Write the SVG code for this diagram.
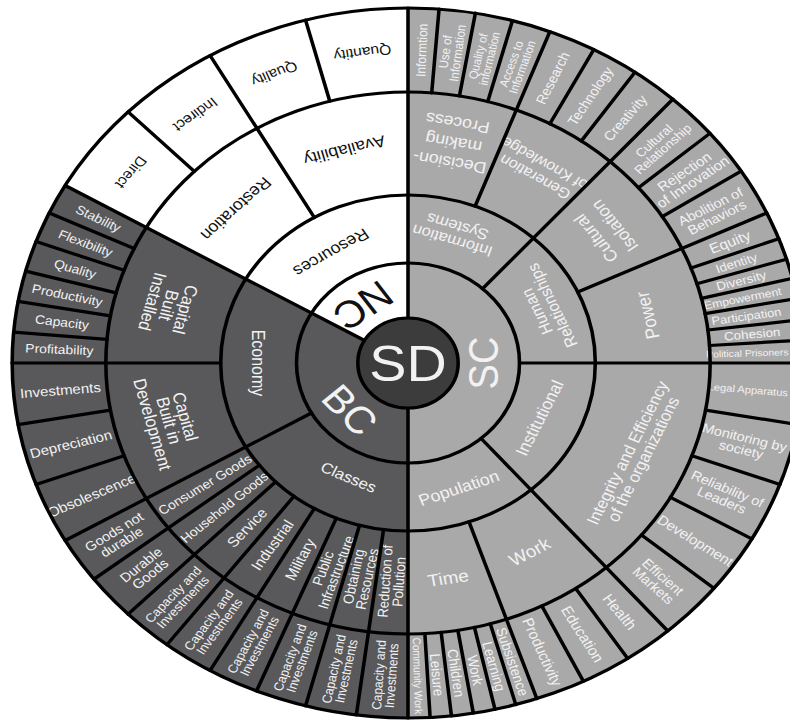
<svg xmlns="http://www.w3.org/2000/svg" width="790" height="721" viewBox="0 0 790 721">
<style>
text{font-family:"Liberation Sans",Arial,Helvetica,sans-serif;text-anchor:middle}
.w{fill:#f2f2f2}
.k{fill:#111}
.arc{fill:none}
.nc{stroke:#ffffff}
.bc{stroke:#59595b}
.sc{stroke:#aaa9aa}
.r1{stroke-width:55}
.r2{stroke-width:68}
.r3{stroke-width:103}
.r4{stroke-width:84}
#dividers line,#dividers circle{stroke:#000;stroke-width:3.2;fill:none;stroke-linecap:round}
</style>
<rect width="790" height="721" fill="#fff"/>
<g transform="translate(408,363) scale(1.115,1)">
<!-- ring 1 -->
<g id="nc"><circle class="arc nc r1" r="72.5" pathLength="360" stroke-dasharray="60 360" transform="rotate(210)"/><text class="k" font-size="38" transform="rotate(325) translate(0,-70) rotate(180)" dy="0.35em">NC</text></g>
<g id="bc"><circle class="arc bc r1" r="72.5" pathLength="360" stroke-dasharray="120 360" transform="rotate(90)"/><text class="w" font-size="38" transform="rotate(228) translate(0,-70) rotate(180)" dy="0.35em">BC</text></g>
<g id="sc"><circle class="arc sc r1" r="72.5" pathLength="360" stroke-dasharray="180 360" transform="rotate(-90)"/><text class="w" font-size="38" transform="rotate(90) translate(0,-67) rotate(180)" dy="0.35em">SC</text></g>
<!-- ring 2 -->
<g id="resources"><circle class="arc nc r2" r="134" pathLength="360" stroke-dasharray="60 360" transform="rotate(210)"/><text class="k" font-size="16" transform="rotate(328) translate(0,-130) rotate(180)" dy="0.35em">Resources</text></g>
<g id="economy"><circle class="arc bc r2" r="134" pathLength="360" stroke-dasharray="60 360" transform="rotate(150)"/><text class="w" font-size="16" transform="rotate(270) translate(0,-134) rotate(180)" dy="0.35em">Economy</text></g>
<g id="classes"><circle class="arc bc r2" r="134" pathLength="360" stroke-dasharray="60 360" transform="rotate(90)"/><text class="w" font-size="15" transform="rotate(205) translate(0,-126) rotate(180)" dy="0.35em">Classes</text></g>
<g id="information-systems"><circle class="arc sc r2" r="134" pathLength="360" stroke-dasharray="42 360" transform="rotate(-90)"/><text class="w" font-size="15" transform="rotate(18) translate(0,-136) rotate(180)"><tspan x="0" dy="-0.15em">Information</tspan><tspan x="0" dy="1em">Systems</tspan></text></g>
<g id="human-relationships"><circle class="arc sc r2" r="134" pathLength="360" stroke-dasharray="48 360" transform="rotate(-48)"/><text class="w" font-size="15" transform="rotate(66) translate(0,-134) rotate(180)"><tspan x="0" dy="-0.15em">Human</tspan><tspan x="0" dy="1em">Relationships</tspan></text></g>
<g id="institutional"><circle class="arc sc r2" r="134" pathLength="360" stroke-dasharray="49 360" transform="rotate(0)"/><text class="w" font-size="16" transform="rotate(115) translate(0,-130) rotate(180)" dy="0.35em">Institutional</text></g>
<g id="population"><circle class="arc sc r2" r="134" pathLength="360" stroke-dasharray="41 360" transform="rotate(49)"/><text class="w" font-size="16" transform="rotate(160) translate(0,-133) rotate(180)" dy="0.35em">Population</text></g>
<!-- ring 3 -->
<g id="restoration"><circle class="arc nc r3" r="219.5" pathLength="360" stroke-dasharray="30 360" transform="rotate(210)"/><text class="k" font-size="16" transform="rotate(315) translate(0,-218) rotate(180)" dy="0.35em">Restoration</text></g>
<g id="availability"><circle class="arc nc r3" r="219.5" pathLength="360" stroke-dasharray="30 360" transform="rotate(240)"/><text class="k" font-size="16" transform="rotate(345) translate(0,-220) rotate(180)" dy="0.35em">Availability</text></g>
<g id="capital-built-installed"><circle class="arc bc r3" r="219.5" pathLength="360" stroke-dasharray="30 360" transform="rotate(180)"/><text class="w" font-size="16" transform="rotate(285) translate(0,-222) rotate(180)"><tspan x="0" dy="-0.6em">Capital</tspan><tspan x="0" dy="0.95em">Built</tspan><tspan x="0" dy="0.95em">Installed</tspan></text></g>
<g id="capital-built-development"><circle class="arc bc r3" r="219.5" pathLength="360" stroke-dasharray="30 360" transform="rotate(150)"/><text class="w" font-size="16" transform="rotate(255) translate(0,-222) rotate(180)"><tspan x="0" dy="-0.6em">Capital</tspan><tspan x="0" dy="0.95em">Built in</tspan><tspan x="0" dy="0.95em">Development</tspan></text></g>
<g id="consumer-goods"><circle class="arc bc r3" r="219.5" pathLength="360" stroke-dasharray="7.5 360" transform="rotate(142.5)"/><text class="w" font-size="12.5" transform="rotate(236.25) translate(0,-219) rotate(90)" dy="0.35em">Consumer Goods</text></g>
<g id="household-goods"><circle class="arc bc r3" r="219.5" pathLength="360" stroke-dasharray="7.5 360" transform="rotate(135)"/><text class="w" font-size="12.5" transform="rotate(228.75) translate(0,-219) rotate(90)" dy="0.35em">Household Goods</text></g>
<g id="service"><circle class="arc bc r3" r="219.5" pathLength="360" stroke-dasharray="7.5 360" transform="rotate(127.5)"/><text class="w" font-size="14" transform="rotate(221.25) translate(0,-219) rotate(90)" dy="0.35em">Service</text></g>
<g id="industrial"><circle class="arc bc r3" r="219.5" pathLength="360" stroke-dasharray="7.5 360" transform="rotate(120)"/><text class="w" font-size="14" transform="rotate(213.75) translate(0,-219) rotate(90)" dy="0.35em">Industrial</text></g>
<g id="military"><circle class="arc bc r3" r="219.5" pathLength="360" stroke-dasharray="7.5 360" transform="rotate(112.5)"/><text class="w" font-size="14" transform="rotate(206.25) translate(0,-219) rotate(90)" dy="0.35em">Military</text></g>
<g id="public-infrastructure"><circle class="arc bc r3" r="219.5" pathLength="360" stroke-dasharray="7.5 360" transform="rotate(105)"/><text class="w" font-size="13" transform="rotate(198.75) translate(0,-219) rotate(90)"><tspan x="0" dy="-0.125em">Public</tspan><tspan x="0" dy="0.95em">Infrastructure</tspan></text></g>
<g id="obtaining-resources"><circle class="arc bc r3" r="219.5" pathLength="360" stroke-dasharray="7.5 360" transform="rotate(97.5)"/><text class="w" font-size="13" transform="rotate(191.25) translate(0,-219) rotate(90)"><tspan x="0" dy="-0.125em">Obtaining</tspan><tspan x="0" dy="0.95em">Resources</tspan></text></g>
<g id="reduction-of-pollution"><circle class="arc bc r3" r="219.5" pathLength="360" stroke-dasharray="7.5 360" transform="rotate(90)"/><text class="w" font-size="13" transform="rotate(183.75) translate(0,-219) rotate(90)"><tspan x="0" dy="-0.125em">Reduction of</tspan><tspan x="0" dy="0.95em">Pollution</tspan></text></g>
<g id="decision-making"><circle class="arc sc r3" r="219.5" pathLength="360" stroke-dasharray="21 360" transform="rotate(-90)"/><text class="w" font-size="16" transform="rotate(10.5) translate(0,-224) rotate(180)"><tspan x="0" dy="-0.9em">Decision-</tspan><tspan x="0" dy="1.25em">making</tspan><tspan x="0" dy="1.25em">Process</tspan></text></g>
<g id="generation-knowledge"><circle class="arc sc r3" r="219.5" pathLength="360" stroke-dasharray="21 360" transform="rotate(-69)"/><text class="w" font-size="14.5" transform="rotate(31.5) translate(0,-226) rotate(180)"><tspan x="0" dy="-0.2em">Generation</tspan><tspan x="0" dy="1.1em">of Knowledge</tspan></text></g>
<g id="cultural-isolation"><circle class="arc sc r3" r="219.5" pathLength="360" stroke-dasharray="23 360" transform="rotate(-48)"/><text class="w" font-size="16" transform="rotate(53.5) translate(0,-220) rotate(180)"><tspan x="0" dy="-0.3em">Cultural</tspan><tspan x="0" dy="1.3em">Isolation</tspan></text></g>
<g id="power"><circle class="arc sc r3" r="219.5" pathLength="360" stroke-dasharray="25 360" transform="rotate(-25)"/><text class="w" font-size="17" transform="rotate(77.5) translate(0,-220) rotate(180)" dy="0.35em">Power</text></g>
<g id="integrity"><circle class="arc sc r3" r="219.5" pathLength="360" stroke-dasharray="49 360" transform="rotate(0)"/><text class="w" font-size="15.5" transform="rotate(114.5) translate(0,-224) rotate(180)"><tspan x="0" dy="-0.15em">Integrity and Efficiency</tspan><tspan x="0" dy="1em">of the organizations</tspan></text></g>
<g id="work"><circle class="arc sc r3" r="219.5" pathLength="360" stroke-dasharray="22 360" transform="rotate(49)"/><text class="w" font-size="17" transform="rotate(150) translate(0,-218) rotate(180)" dy="0.35em">Work</text></g>
<g id="time"><circle class="arc sc r3" r="219.5" pathLength="360" stroke-dasharray="19 360" transform="rotate(71)"/><text class="w" font-size="17" transform="rotate(170.5) translate(0,-218) rotate(180)" dy="0.35em">Time</text></g>
<!-- ring 4 NC -->
<g id="direct"><circle class="arc nc r4" r="313" pathLength="360" stroke-dasharray="15 360" transform="rotate(210)"/><text class="k" font-size="14" transform="rotate(307.5) translate(0,-313) rotate(180)" dy="0.35em">Direct</text></g>
<g id="indirect"><circle class="arc nc r4" r="313" pathLength="360" stroke-dasharray="15 360" transform="rotate(225)"/><text class="k" font-size="14" transform="rotate(322.5) translate(0,-313) rotate(180)" dy="0.35em">Indirect</text></g>
<g id="quality-nc"><circle class="arc nc r4" r="313" pathLength="360" stroke-dasharray="15 360" transform="rotate(240)"/><text class="k" font-size="14" transform="rotate(337.5) translate(0,-313) rotate(180)" dy="0.35em">Quality</text></g>
<g id="quantity"><circle class="arc nc r4" r="313" pathLength="360" stroke-dasharray="15 360" transform="rotate(255)"/><text class="k" font-size="14" transform="rotate(352.5) translate(0,-313) rotate(180)" dy="0.35em">Quantity</text></g>
<!-- ring 4 BC -->
<g id="stability"><circle class="arc bc r4" r="313" pathLength="360" stroke-dasharray="5 360" transform="rotate(205)"/><text class="w" font-size="12.5" transform="rotate(297.5) translate(0,-313) rotate(90)" dy="0.35em">Stability</text></g>
<g id="flexibility"><circle class="arc bc r4" r="313" pathLength="360" stroke-dasharray="5 360" transform="rotate(200)"/><text class="w" font-size="12.5" transform="rotate(292.5) translate(0,-313) rotate(90)" dy="0.35em">Flexibility</text></g>
<g id="quality-bc"><circle class="arc bc r4" r="313" pathLength="360" stroke-dasharray="5 360" transform="rotate(195)"/><text class="w" font-size="12.5" transform="rotate(287.5) translate(0,-313) rotate(90)" dy="0.35em">Quality</text></g>
<g id="productivity-bc"><circle class="arc bc r4" r="313" pathLength="360" stroke-dasharray="5 360" transform="rotate(190)"/><text class="w" font-size="12.5" transform="rotate(282.5) translate(0,-313) rotate(90)" dy="0.35em">Productivity</text></g>
<g id="capacity"><circle class="arc bc r4" r="313" pathLength="360" stroke-dasharray="5 360" transform="rotate(185)"/><text class="w" font-size="12.5" transform="rotate(277.5) translate(0,-313) rotate(90)" dy="0.35em">Capacity</text></g>
<g id="profitability"><circle class="arc bc r4" r="313" pathLength="360" stroke-dasharray="5 360" transform="rotate(180)"/><text class="w" font-size="12.5" transform="rotate(272.5) translate(0,-313) rotate(90)" dy="0.35em">Profitability</text></g>
<g id="investments"><circle class="arc bc r4" r="313" pathLength="360" stroke-dasharray="10 360" transform="rotate(170)"/><text class="w" font-size="13.5" transform="rotate(265) translate(0,-313) rotate(90)" dy="0.35em">Investments</text></g>
<g id="depreciation"><circle class="arc bc r4" r="313" pathLength="360" stroke-dasharray="10 360" transform="rotate(160)"/><text class="w" font-size="13.5" transform="rotate(255) translate(0,-313) rotate(90)" dy="0.35em">Depreciation</text></g>
<g id="obsolescence"><circle class="arc bc r4" r="313" pathLength="360" stroke-dasharray="10 360" transform="rotate(150)"/><text class="w" font-size="13.5" transform="rotate(245) translate(0,-313) rotate(90)" dy="0.35em">Obsolescence</text></g>
<g id="goods-not-durable"><circle class="arc bc r4" r="313" pathLength="360" stroke-dasharray="7.5 360" transform="rotate(142.5)"/><text class="w" font-size="13" transform="rotate(236.25) translate(0,-313) rotate(90)"><tspan x="0" dy="-0.125em">Goods not</tspan><tspan x="0" dy="0.95em">durable</tspan></text></g>
<g id="durable-goods"><circle class="arc bc r4" r="313" pathLength="360" stroke-dasharray="7.5 360" transform="rotate(135)"/><text class="w" font-size="13" transform="rotate(228.75) translate(0,-313) rotate(90)"><tspan x="0" dy="-0.125em">Durable</tspan><tspan x="0" dy="0.95em">Goods</tspan></text></g>
<g id="cap-inv-1"><circle class="arc bc r4" r="313" pathLength="360" stroke-dasharray="7.5 360" transform="rotate(127.5)"/><text class="w" font-size="12" transform="rotate(221.25) translate(0,-313) rotate(90)"><tspan x="0" dy="-0.125em">Capacity and</tspan><tspan x="0" dy="0.95em">Investments</tspan></text></g>
<g id="cap-inv-2"><circle class="arc bc r4" r="313" pathLength="360" stroke-dasharray="7.5 360" transform="rotate(120)"/><text class="w" font-size="12" transform="rotate(213.75) translate(0,-313) rotate(90)"><tspan x="0" dy="-0.125em">Capacity and</tspan><tspan x="0" dy="0.95em">Investments</tspan></text></g>
<g id="cap-inv-3"><circle class="arc bc r4" r="313" pathLength="360" stroke-dasharray="7.5 360" transform="rotate(112.5)"/><text class="w" font-size="12" transform="rotate(206.25) translate(0,-313) rotate(90)"><tspan x="0" dy="-0.125em">Capacity and</tspan><tspan x="0" dy="0.95em">Investments</tspan></text></g>
<g id="cap-inv-4"><circle class="arc bc r4" r="313" pathLength="360" stroke-dasharray="7.5 360" transform="rotate(105)"/><text class="w" font-size="12" transform="rotate(198.75) translate(0,-313) rotate(90)"><tspan x="0" dy="-0.125em">Capacity and</tspan><tspan x="0" dy="0.95em">Investments</tspan></text></g>
<g id="cap-inv-5"><circle class="arc bc r4" r="313" pathLength="360" stroke-dasharray="7.5 360" transform="rotate(97.5)"/><text class="w" font-size="12" transform="rotate(191.25) translate(0,-313) rotate(90)"><tspan x="0" dy="-0.125em">Capacity and</tspan><tspan x="0" dy="0.95em">Investments</tspan></text></g>
<g id="cap-inv-6"><circle class="arc bc r4" r="313" pathLength="360" stroke-dasharray="7.5 360" transform="rotate(90)"/><text class="w" font-size="12" transform="rotate(183.75) translate(0,-313) rotate(90)"><tspan x="0" dy="-0.125em">Capacity and</tspan><tspan x="0" dy="0.95em">Investments</tspan></text></g>
<!-- ring 4 SC -->
<g id="informtion"><circle class="arc sc r4" r="313" pathLength="360" stroke-dasharray="4.5 360" transform="rotate(-90)"/><text class="w" font-size="12" transform="rotate(2.25) translate(0,-313) rotate(-90)" dy="0.35em">Informtion</text></g>
<g id="use-of-information"><circle class="arc sc r4" r="313" pathLength="360" stroke-dasharray="5.3 360" transform="rotate(-85.5)"/><text class="w" font-size="11.5" transform="rotate(7.15) translate(0,-313) rotate(-90)"><tspan x="0" dy="-0.125em">Use of</tspan><tspan x="0" dy="0.95em">Information</tspan></text></g>
<g id="quality-of-information"><circle class="arc sc r4" r="313" pathLength="360" stroke-dasharray="5.5 360" transform="rotate(-80.2)"/><text class="w" font-size="11" transform="rotate(12.55) translate(0,-313) rotate(-90)"><tspan x="0" dy="-0.125em">Quality of</tspan><tspan x="0" dy="0.95em">information</tspan></text></g>
<g id="access-to-information"><circle class="arc sc r4" r="313" pathLength="360" stroke-dasharray="5.7 360" transform="rotate(-74.7)"/><text class="w" font-size="11" transform="rotate(18.15) translate(0,-313) rotate(-90)"><tspan x="0" dy="-0.125em">Access to</tspan><tspan x="0" dy="0.95em">Information</tspan></text></g>
<g id="research"><circle class="arc sc r4" r="313" pathLength="360" stroke-dasharray="7 360" transform="rotate(-69)"/><text class="w" font-size="13" transform="rotate(24.5) translate(0,-313) rotate(-90)" dy="0.35em">Research</text></g>
<g id="technology"><circle class="arc sc r4" r="313" pathLength="360" stroke-dasharray="7 360" transform="rotate(-62)"/><text class="w" font-size="13" transform="rotate(31.5) translate(0,-313) rotate(-90)" dy="0.35em">Technology</text></g>
<g id="creativity"><circle class="arc sc r4" r="313" pathLength="360" stroke-dasharray="7 360" transform="rotate(-55)"/><text class="w" font-size="13" transform="rotate(38.5) translate(0,-313) rotate(-90)" dy="0.35em">Creativity</text></g>
<g id="cultural-relationship"><circle class="arc sc r4" r="313" pathLength="360" stroke-dasharray="7.7 360" transform="rotate(-48)"/><text class="w" font-size="12" transform="rotate(45.85) translate(0,-313) rotate(-90)"><tspan x="0" dy="-0.125em">Cultural</tspan><tspan x="0" dy="0.95em">Relationship</tspan></text></g>
<g id="rejection-of-innovation"><circle class="arc sc r4" r="313" pathLength="360" stroke-dasharray="7.6 360" transform="rotate(-40.3)"/><text class="w" font-size="13.5" transform="rotate(53.5) translate(0,-313) rotate(-90)"><tspan x="0" dy="-0.125em">Rejection</tspan><tspan x="0" dy="0.95em">of Innovation</tspan></text></g>
<g id="abolition-of-behaviors"><circle class="arc sc r4" r="313" pathLength="360" stroke-dasharray="7.7 360" transform="rotate(-32.7)"/><text class="w" font-size="13" transform="rotate(61.15) translate(0,-313) rotate(-90)"><tspan x="0" dy="-0.125em">Abolition of</tspan><tspan x="0" dy="0.95em">Behaviors</tspan></text></g>
<g id="equity"><circle class="arc sc r4" r="313" pathLength="360" stroke-dasharray="4.5 360" transform="rotate(-25)"/><text class="w" font-size="14" transform="rotate(67.25) translate(0,-313) rotate(-90)" dy="0.35em">Equity</text></g>
<g id="identity"><circle class="arc sc r4" r="313" pathLength="360" stroke-dasharray="3.5 360" transform="rotate(-20.5)"/><text class="w" font-size="12" transform="rotate(71.25) translate(0,-311) rotate(-90)" dy="0.35em">Identity</text></g>
<g id="diversity"><circle class="arc sc r4" r="313" pathLength="360" stroke-dasharray="3.2 360" transform="rotate(-17)"/><text class="w" font-size="12" transform="rotate(74.6) translate(0,-310) rotate(-90)" dy="0.35em">Diversity</text></g>
<g id="empowerment"><circle class="arc sc r4" r="313" pathLength="360" stroke-dasharray="3.3 360" transform="rotate(-13.8)"/><text class="w" font-size="11" transform="rotate(77.85) translate(0,-307) rotate(-90)" dy="0.35em">Empowerment</text></g>
<g id="participation"><circle class="arc sc r4" r="313" pathLength="360" stroke-dasharray="3.5 360" transform="rotate(-10.5)"/><text class="w" font-size="11.5" transform="rotate(81.25) translate(0,-307) rotate(-90)" dy="0.35em">Participation</text></g>
<g id="cohesion"><circle class="arc sc r4" r="313" pathLength="360" stroke-dasharray="3.3 360" transform="rotate(-7)"/><text class="w" font-size="12" transform="rotate(84.65) translate(0,-310) rotate(-90)" dy="0.35em">Cohesion</text></g>
<g id="political-prisoners"><circle class="arc sc r4" r="313" pathLength="360" stroke-dasharray="3.7 360" transform="rotate(-3.7)"/><text class="w" font-size="9.3" transform="rotate(88.15) translate(0,-304.5) rotate(-90)" dy="0.35em">Political Prisoners</text></g>
<g id="legal-apparatus"><circle class="arc sc r4" r="313" pathLength="360" stroke-dasharray="10 360" transform="rotate(0)"/><text class="w" font-size="10" transform="rotate(95) translate(0,-306) rotate(-90)" dy="0.35em">Legal Apparatus</text></g>
<g id="monitoring-by-society"><circle class="arc sc r4" r="313" pathLength="360" stroke-dasharray="10 360" transform="rotate(10)"/><text class="w" font-size="13" transform="rotate(105) translate(0,-311) rotate(-90)"><tspan x="0" dy="-0.125em">Monitoring by</tspan><tspan x="0" dy="0.95em">society</tspan></text></g>
<g id="reliability-of-leaders"><circle class="arc sc r4" r="313" pathLength="360" stroke-dasharray="9.7 360" transform="rotate(20)"/><text class="w" font-size="13" transform="rotate(114.85) translate(0,-313) rotate(-90)"><tspan x="0" dy="-0.125em">Reliability of</tspan><tspan x="0" dy="0.95em">Leaders</tspan></text></g>
<g id="development"><circle class="arc sc r4" r="313" pathLength="360" stroke-dasharray="9.7 360" transform="rotate(29.7)"/><text class="w" font-size="13.5" transform="rotate(124.55) translate(0,-313) rotate(-90)" dy="0.35em">Development</text></g>
<g id="efficient-markets"><circle class="arc sc r4" r="313" pathLength="360" stroke-dasharray="9.6 360" transform="rotate(39.4)"/><text class="w" font-size="13" transform="rotate(134.2) translate(0,-313) rotate(-90)"><tspan x="0" dy="-0.125em">Efficient</tspan><tspan x="0" dy="0.95em">Markets</tspan></text></g>
<g id="health"><circle class="arc sc r4" r="313" pathLength="360" stroke-dasharray="7.3 360" transform="rotate(49)"/><text class="w" font-size="14" transform="rotate(142.65) translate(0,-313) rotate(-90)" dy="0.35em">Health</text></g>
<g id="education"><circle class="arc sc r4" r="313" pathLength="360" stroke-dasharray="7.4 360" transform="rotate(56.3)"/><text class="w" font-size="14" transform="rotate(150) translate(0,-313) rotate(-90)" dy="0.35em">Education</text></g>
<g id="productivity-sc"><circle class="arc sc r4" r="313" pathLength="360" stroke-dasharray="7.3 360" transform="rotate(63.7)"/><text class="w" font-size="14" transform="rotate(157.35) translate(0,-313) rotate(-90)" dy="0.35em">Productivity</text></g>
<g id="subsistence"><circle class="arc sc r4" r="313" pathLength="360" stroke-dasharray="3.2 360" transform="rotate(71)"/><text class="w" font-size="13" transform="rotate(162.6) translate(0,-313) rotate(-90)" dy="0.35em">Subsistence</text></g>
<g id="learning"><circle class="arc sc r4" r="313" pathLength="360" stroke-dasharray="3.1 360" transform="rotate(74.2)"/><text class="w" font-size="13" transform="rotate(165.75) translate(0,-313) rotate(-90)" dy="0.35em">Learning</text></g>
<g id="work-4"><circle class="arc sc r4" r="313" pathLength="360" stroke-dasharray="3.2 360" transform="rotate(77.3)"/><text class="w" font-size="13" transform="rotate(168.9) translate(0,-313) rotate(-90)" dy="0.35em">Work</text></g>
<g id="children"><circle class="arc sc r4" r="313" pathLength="360" stroke-dasharray="3.2 360" transform="rotate(80.5)"/><text class="w" font-size="13" transform="rotate(172.1) translate(0,-313) rotate(-90)" dy="0.35em">Children</text></g>
<g id="leisure"><circle class="arc sc r4" r="313" pathLength="360" stroke-dasharray="3.1 360" transform="rotate(83.7)"/><text class="w" font-size="13" transform="rotate(175.25) translate(0,-313) rotate(-90)" dy="0.35em">Leisure</text></g>
<g id="community-work"><circle class="arc sc r4" r="313" pathLength="360" stroke-dasharray="3.2 360" transform="rotate(86.8)"/><text class="w" font-size="10" transform="rotate(178.4) translate(0,-313) rotate(-90)" dy="0.35em">Community Work</text></g>
<!-- dividers -->
<g id="dividers">
<circle r="100"/><circle r="168"/><circle r="271"/><circle r="355"/>
<line y1="-45" y2="-355"/>
<line y1="-45" y2="-355" transform="rotate(180)"/>
<line y1="-45" y2="-355" transform="rotate(300)"/>
<line y1="-100" y2="-355" transform="rotate(240)"/>
<line y1="-100" y2="-355" transform="rotate(42)"/>
<line y1="-100" y2="-355" transform="rotate(90)"/>
<line y1="-100" y2="-355" transform="rotate(139)"/>
<line y1="-168" y2="-355" transform="rotate(330)"/>
<line y1="-168" y2="-355" transform="rotate(270)"/>
<line y1="-168" y2="-355" transform="rotate(21)"/>
<line y1="-168" y2="-355" transform="rotate(65)"/>
<line y1="-168" y2="-355" transform="rotate(161)"/>
<line y1="-168" y2="-355" transform="rotate(187.5)"/>
<line y1="-168" y2="-355" transform="rotate(195)"/>
<line y1="-168" y2="-355" transform="rotate(202.5)"/>
<line y1="-168" y2="-355" transform="rotate(210)"/>
<line y1="-168" y2="-355" transform="rotate(217.5)"/>
<line y1="-168" y2="-355" transform="rotate(225)"/>
<line y1="-168" y2="-355" transform="rotate(232.5)"/>
<line y1="-271" y2="-355" transform="rotate(315)"/>
<line y1="-271" y2="-355" transform="rotate(345)"/>
<line y1="-271" y2="-355" transform="rotate(275)"/>
<line y1="-271" y2="-355" transform="rotate(280)"/>
<line y1="-271" y2="-355" transform="rotate(285)"/>
<line y1="-271" y2="-355" transform="rotate(290)"/>
<line y1="-271" y2="-355" transform="rotate(295)"/>
<line y1="-271" y2="-355" transform="rotate(250)"/>
<line y1="-271" y2="-355" transform="rotate(260)"/>
<line y1="-271" y2="-355" transform="rotate(4.5)"/>
<line y1="-271" y2="-355" transform="rotate(9.8)"/>
<line y1="-271" y2="-355" transform="rotate(15.3)"/>
<line y1="-271" y2="-355" transform="rotate(28)"/>
<line y1="-271" y2="-355" transform="rotate(35)"/>
<line y1="-271" y2="-355" transform="rotate(49.7)"/>
<line y1="-271" y2="-355" transform="rotate(57.3)"/>
<line y1="-271" y2="-355" transform="rotate(69.5)"/>
<line y1="-271" y2="-355" transform="rotate(73)"/>
<line y1="-271" y2="-355" transform="rotate(76.2)"/>
<line y1="-271" y2="-355" transform="rotate(79.5)"/>
<line y1="-271" y2="-355" transform="rotate(83)"/>
<line y1="-271" y2="-355" transform="rotate(86.3)"/>
<line y1="-271" y2="-355" transform="rotate(100)"/>
<line y1="-271" y2="-355" transform="rotate(110)"/>
<line y1="-271" y2="-355" transform="rotate(119.7)"/>
<line y1="-271" y2="-355" transform="rotate(129.4)"/>
<line y1="-271" y2="-355" transform="rotate(146.3)"/>
<line y1="-271" y2="-355" transform="rotate(153.7)"/>
<line y1="-271" y2="-355" transform="rotate(164.2)"/>
<line y1="-271" y2="-355" transform="rotate(167.3)"/>
<line y1="-271" y2="-355" transform="rotate(170.5)"/>
<line y1="-271" y2="-355" transform="rotate(173.7)"/>
<line y1="-271" y2="-355" transform="rotate(176.8)"/>
</g>
<g id="sd"><circle r="45" fill="#3c3c3c" stroke="#000" stroke-width="3.2"/><text class="w" font-size="50" dy="0.35em">SD</text></g>
</g>
</svg>
